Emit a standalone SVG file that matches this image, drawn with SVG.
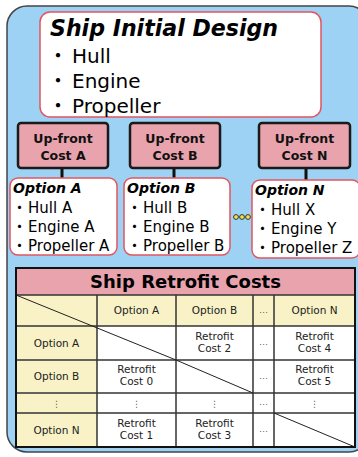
<svg xmlns="http://www.w3.org/2000/svg" width="358" height="457" viewBox="0 0 358 457">
<style>
.f{font-family:"DejaVu Sans","Noto Sans CJK JP",sans-serif}
.big{font-size:20px;fill:#000}
.opt{font-size:15px;fill:#000}
.optt{font-size:14px;font-weight:bold;font-style:italic;fill:#000}
.uf{font-size:12.5px;font-weight:bold;fill:#111;text-anchor:middle}
.cell{font-size:10.5px;fill:#222;text-anchor:middle}
.dots{font-size:9px;fill:#666;text-anchor:middle}
.wbox{fill:#fff;stroke:#e2555f;stroke-width:1.5}
.ufbox{fill:#e8a3ad;stroke:#1a1a1a;stroke-width:2.5}
.y{fill:#f8f2c6}
.w{fill:#fff}
.grid{stroke:#333;stroke-width:1.5;fill:none}
</style>
<rect x="7" y="6" width="362" height="446" rx="20" fill="#9dd2f5" stroke="#444" stroke-width="1.5"/>

<g id="connectors" stroke="#111" stroke-width="3">
<line x1="62" y1="168" x2="62" y2="178"/>
<line x1="174" y1="168" x2="174" y2="178"/>
<line x1="306" y1="168" x2="306" y2="180"/>
</g>

<g id="initial-design">
<rect class="wbox" x="40" y="12" width="281" height="105" rx="10"/>
<text class="f" x="50" y="36" font-size="23" font-weight="bold" font-style="italic" textLength="228" lengthAdjust="spacingAndGlyphs">Ship Initial Design</text>
<text class="f big" x="48" y="63">・<tspan dx="4">Hull</tspan></text>
<text class="f big" x="48" y="88">・<tspan dx="4">Engine</tspan></text>
<text class="f big" x="48" y="113">・<tspan dx="4">Propeller</tspan></text>
</g>

<g id="upfront-a">
<rect class="ufbox" x="18" y="123" width="90" height="45" rx="3"/>
<text class="f uf" x="63" y="143">Up-front</text>
<text class="f uf" x="63" y="160">Cost A</text>
</g>
<g id="upfront-b">
<rect class="ufbox" x="130" y="123" width="90" height="45" rx="3"/>
<text class="f uf" x="175" y="143">Up-front</text>
<text class="f uf" x="175" y="160">Cost B</text>
</g>
<g id="upfront-n">
<rect class="ufbox" x="259" y="123" width="91" height="45" rx="3"/>
<text class="f uf" x="304.5" y="143">Up-front</text>
<text class="f uf" x="304.5" y="160">Cost N</text>
</g>

<g id="option-a">
<rect class="wbox" x="10" y="178" width="107" height="77" rx="8"/>
<text class="f optt" x="13" y="193">Option A</text>
<text class="f opt" x="12" y="213">・<tspan dx="1">Hull A</tspan></text>
<text class="f opt" x="12" y="232">・<tspan dx="1">Engine A</tspan></text>
<text class="f opt" x="12" y="251">・<tspan dx="1">Propeller A</tspan></text>
</g>
<g id="option-b">
<rect class="wbox" x="124" y="178" width="106" height="77" rx="8"/>
<text class="f optt" x="127" y="193">Option B</text>
<text class="f opt" x="127" y="213">・<tspan dx="1">Hull B</tspan></text>
<text class="f opt" x="127" y="232">・<tspan dx="1">Engine B</tspan></text>
<text class="f opt" x="127" y="251">・<tspan dx="1">Propeller B</tspan></text>
</g>
<g id="ellipsis" fill="#f2e24a" stroke="#333" stroke-width="1">
<circle cx="236" cy="217" r="2.4"/>
<circle cx="242" cy="217" r="2.4"/>
<circle cx="248" cy="217" r="2.4"/>
</g>
<g id="option-n">
<rect class="wbox" x="252" y="180" width="108" height="78" rx="8"/>
<text class="f optt" x="255" y="195">Option N</text>
<text class="f opt" x="255" y="215">・<tspan dx="1">Hull X</tspan></text>
<text class="f opt" x="255" y="234">・<tspan dx="1">Engine Y</tspan></text>
<text class="f opt" x="255" y="253">・<tspan dx="1">Propeller Z</tspan></text>
</g>

<g id="retrofit-table">
<rect x="16" y="268" width="339" height="27" fill="#e8a3ad"/>
<rect class="y" x="16" y="295" width="339" height="31"/>
<rect class="y" x="16" y="326" width="81" height="121"/>
<rect class="w" x="97" y="326" width="258" height="121"/>
<g class="grid">
<line x1="16" y1="295" x2="355" y2="295"/>
<line x1="16" y1="326" x2="355" y2="326"/>
<line x1="16" y1="360" x2="355" y2="360"/>
<line x1="16" y1="393" x2="355" y2="393"/>
<line x1="16" y1="413" x2="355" y2="413"/>
<line x1="97" y1="295" x2="97" y2="447"/>
<line x1="176" y1="295" x2="176" y2="447"/>
<line x1="253" y1="295" x2="253" y2="447"/>
<line x1="274" y1="295" x2="274" y2="447"/>
</g>
<g stroke="#222" stroke-width="1">
<line x1="16" y1="295" x2="176" y2="360"/>
<line x1="176" y1="360" x2="253" y2="393"/>
<line x1="274" y1="413" x2="355" y2="447"/>
</g>
<rect x="16" y="268" width="339" height="179" fill="none" stroke="#111" stroke-width="2"/>
<text class="f" x="185.5" y="288" font-size="18" font-weight="bold" text-anchor="middle">Ship Retrofit Costs</text>
<text class="f cell" x="136.5" y="314">Option A</text>
<text class="f cell" x="214.5" y="314">Option B</text>
<text class="f dots" x="263.5" y="313">…</text>
<text class="f cell" x="314.5" y="314">Option N</text>
<text class="f cell" x="56.5" y="347">Option A</text>
<text class="f cell" x="214.5" y="339.5">Retrofit</text>
<text class="f cell" x="214.5" y="351.5">Cost 2</text>
<text class="f dots" x="263.5" y="345">…</text>
<text class="f cell" x="314.5" y="339.5">Retrofit</text>
<text class="f cell" x="314.5" y="351.5">Cost 4</text>
<text class="f cell" x="56.5" y="380">Option B</text>
<text class="f cell" x="136.5" y="373">Retrofit</text>
<text class="f cell" x="136.5" y="385">Cost 0</text>
<text class="f dots" x="263.5" y="378.5">…</text>
<text class="f cell" x="314.5" y="373">Retrofit</text>
<text class="f cell" x="314.5" y="385">Cost 5</text>
<text class="f dots" x="56.5" y="407" font-size="11">⋮</text>
<text class="f dots" x="136.5" y="407" font-size="11">⋮</text>
<text class="f dots" x="214.5" y="407" font-size="11">⋮</text>
<text class="f dots" x="263.5" y="405">…</text>
<text class="f dots" x="314.5" y="407" font-size="11">⋮</text>
<text class="f cell" x="56.5" y="434">Option N</text>
<text class="f cell" x="136.5" y="426.5">Retrofit</text>
<text class="f cell" x="136.5" y="438.5">Cost 1</text>
<text class="f cell" x="214.5" y="426.5">Retrofit</text>
<text class="f cell" x="214.5" y="438.5">Cost 3</text>
<text class="f dots" x="263.5" y="432">…</text>
</g>
</svg>
